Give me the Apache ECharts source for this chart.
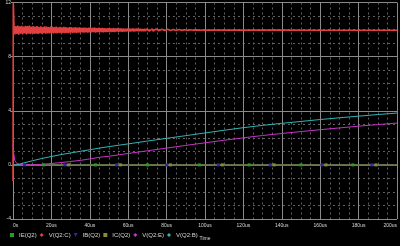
<!DOCTYPE html>
<html><head><meta charset="utf-8">
<script src="https://cdn.jsdelivr.net/npm/echarts@6/dist/echarts.min.js"></script>
<style>html,body{margin:0;padding:0;background:#000;}#c{width:400px;height:246px;}</style>
</head><body><div id="c"></div>
<script>
// ---- data ----
const xTickLabels = ['0s','20us','40us','60us','80us','100us','120us','140us','160us','180us','200us'];
const yTickLabels = ['-4','0','4','8','12'];
const seriesNames = ['IE(Q2)','V(Q2:C)','IB(Q2)','IC(Q2)','V(Q2:E)','V(Q2:B)'];

// V(Q2:C): start spike, noisy settling band (0.5us samples from 0.5us), then tail
const vcHeadT = [0, 0.15];
const vcHeadV = [-1.2, 12];
const vcNoiseStart = 0.5, vcNoiseStep = 0.5;
const vcNoiseV = [
 10.29,9.64,10.26,9.68,10.30,9.63,10.24,9.70,10.28,9.66,10.22,9.72,10.27,9.65,10.25,9.69,10.29,9.67,10.21,9.71,
 10.25,9.68,10.22,9.70,10.26,9.67,10.20,9.72,10.24,9.69,10.19,9.73,10.23,9.70,10.21,9.72,10.18,9.71,10.22,9.74,
 10.21,9.72,10.18,9.74,10.22,9.71,10.17,9.75,10.20,9.73,10.16,9.76,10.19,9.74,10.18,9.75,10.15,9.74,10.18,9.77,
 10.17,9.76,10.15,9.78,10.18,9.75,10.14,9.78,10.16,9.77,10.13,9.79,10.15,9.77,10.14,9.79,10.12,9.78,10.14,9.80,
 10.14,9.79,10.12,9.81,10.15,9.78,10.11,9.81,10.13,9.80,10.10,9.82,10.12,9.80,10.11,9.82,10.09,9.81,10.11,9.83,
 10.10,9.82,10.09,9.84,10.11,9.82,10.08,9.85,10.10,9.83,10.07,9.85,10.09,9.84,10.07,9.86,10.06,9.85,10.08,9.87,
 10.07,9.86,10.06,9.87,10.08,9.86,10.05,9.88,10.07,9.87,10.05,9.88,10.06,9.88,10.04,9.89,10.05,9.88,10.04,9.90,
 10.04,9.89,10.03,9.90,10.05,9.89,10.03,9.91,10.04,9.90,10.02,9.91,10.03,9.91,10.02,9.92,10.03,9.92,10.01,9.92,
 10.02,9.92,10.01,9.93,10.02,9.92,10.01,9.93,10.01,9.93,10.00,9.93,10.01,9.94,10.00,9.94,10.00,9.93,9.99,9.94,
 9.99,9.94,9.99,9.94,9.99,9.95,9.98,9.95,9.98,9.95,9.98,9.95,9.98,9.95,9.97,9.95,9.97,9.96,9.97,9.96];
const vcTailT = [110, 120, 140, 160, 180, 200];
const vcTailV = [9.96, 9.96, 9.96, 9.95, 9.95, 9.95];

// V(Q2:B)
const vbT = [0, 2, 5, 10, 15, 20, 25, 30, 35, 40, 45, 50, 60, 70, 80, 90, 100, 110, 120, 130, 140, 150, 160, 170, 180, 190, 200];
const vbV = [0, 0, 0.12, 0.30, 0.47, 0.62, 0.76, 0.88, 1.00, 1.12, 1.24, 1.35, 1.55, 1.76, 1.96, 2.16, 2.36, 2.56, 2.75, 2.92, 3.07, 3.21, 3.35, 3.48, 3.60, 3.72, 3.83];

// V(Q2:E)
const veT = [0, 0.4, 1, 2, 4, 8, 14, 20, 25, 30, 35, 40, 45, 50, 60, 70, 80, 90, 100, 110, 120, 130, 140, 150, 160, 170, 180, 190, 200];
const veV = [1.5, 0.8, 0.3, 0.1, 0.02, 0, 0.02, 0.10, 0.17, 0.25, 0.33, 0.44, 0.56, 0.64, 0.84, 1.04, 1.24, 1.44, 1.63, 1.82, 2.00, 2.17, 2.32, 2.46, 2.60, 2.73, 2.86, 2.98, 3.09];

// currents (all ~0), with marker sample times
const ieT = [0, 16, 43, 70, 97, 123, 150, 177, 200];
const ieV = [0, 0, 0, 0, 0, 0, 0, 0, 0];
const ibT = [0, 6, 27, 54, 80, 107, 134, 161, 187, 200];
const ibV = [0, 0, 0, 0, 0, 0, 0, 0, 0, 0];
const icT = [0, 29, 56, 82, 109, 136, 163, 189, 200];
const icV = [0, 0, 0, 0, 0, 0, 0, 0, 0];

// ---- build ----
function pairs(t, v) { return t.map((x, i) => [x, v[i]]); }
function marked(t, v) {
  return t.map((x, i) => (i === 0 || i === t.length - 1) ? { value: [x, v[i]], symbol: 'none' } : [x, v[i]]);
}
const vcData = pairs(vcHeadT, vcHeadV)
  .concat(vcNoiseV.map((y, i) => [vcNoiseStart + vcNoiseStep * i, y]))
  .concat(pairs(vcTailT, vcTailV));

const colors = {
  ie: '#22a022', vc: '#e24040', ib: '#2828b0', ic: '#a8c42c', ve: '#c832c8', vb: '#32b4b4'
};
const downTri = 'path://M0,0 L10,0 L5,10 Z';

const chart = echarts.init(document.getElementById('c'), null, { renderer: 'canvas' });
const font = 'Liberation Sans, Arial, sans-serif';
chart.setOption({
  animation: false,
  backgroundColor: '#000',
  grid: { left: 13, right: 1, top: 2, bottom: 22, containLabel: false },
  legend: {
    left: 10, top: 232, itemWidth: 4, itemHeight: 4, itemGap: 3, padding: 0,
    textStyle: { color: '#d8d8d8', fontSize: 6, fontFamily: font },
    data: [
      { name: seriesNames[0], icon: 'rect' },
      { name: seriesNames[1], icon: 'diamond' },
      { name: seriesNames[2], icon: downTri },
      { name: seriesNames[3], icon: 'rect' },
      { name: seriesNames[4], icon: 'diamond' },
      { name: seriesNames[5], icon: 'diamond' }
    ]
  },
  xAxis: {
    type: 'value', min: 0, max: 200, interval: 20,
    name: 'Time', nameLocation: 'middle', nameGap: 17,
    nameTextStyle: { color: '#d8d8d8', fontSize: 5, fontFamily: font },
    axisLine: { show: true, lineStyle: { color: '#909090', width: 1 } },
    axisTick: { show: false },
    axisLabel: {
      color: '#d8d8d8', fontSize: 5, fontFamily: font, margin: 4,
      alignMinLabel: 'left', alignMaxLabel: 'right',
      formatter: v => xTickLabels[Math.round(v / 20)]
    },
    splitLine: { show: true, lineStyle: { color: '#8a8a8a', width: 1 } },
    minorTick: { show: false, splitNumber: 4 },
    minorSplitLine: { show: true, lineStyle: { color: '#606060', width: 1, type: [2, 3] } }
  },
  yAxis: {
    type: 'value', min: -4, max: 12, interval: 4,
    axisLine: { show: true, lineStyle: { color: '#909090', width: 1 } },
    axisTick: { show: true, length: 2, lineStyle: { color: '#909090' } },
    axisLabel: {
      color: '#d8d8d8', fontSize: 5, fontFamily: font, margin: 2,
      formatter: v => yTickLabels[Math.round((v + 4) / 4)]
    },
    splitLine: { show: true, lineStyle: { color: '#8a8a8a', width: 1 } },
    minorTick: { show: false, splitNumber: 4 },
    minorSplitLine: { show: true, lineStyle: { color: '#606060', width: 1, type: [2, 3] } }
  },
  series: [
    { name: seriesNames[0], type: 'line', data: marked(ieT, ieV), color: colors.ie,
      symbol: 'rect', symbolSize: 3, showSymbol: true, lineStyle: { width: 1 } },
    { name: seriesNames[1], type: 'line', data: vcData, color: colors.vc,
      showSymbol: false, symbol: 'diamond', lineStyle: { width: 1.6 } },
    { name: seriesNames[2], type: 'line', data: marked(ibT, ibV), color: colors.ib,
      symbol: 'rect', symbolSize: 3, showSymbol: true, lineStyle: { width: 1 } },
    { name: seriesNames[3], type: 'line', data: marked(icT, icV), color: colors.ic,
      symbol: 'rect', symbolSize: 3, showSymbol: true, lineStyle: { width: 1 },
      itemStyle: { color: '#8a8a30' } },
    { name: seriesNames[4], type: 'line', data: pairs(veT, veV), color: colors.ve,
      showSymbol: false, symbol: 'diamond', lineStyle: { width: 1 } },
    { name: seriesNames[5], type: 'line', data: pairs(vbT, vbV), color: colors.vb,
      showSymbol: false, symbol: 'diamond', lineStyle: { width: 1 } }
  ]
});
</script>
</body></html>
